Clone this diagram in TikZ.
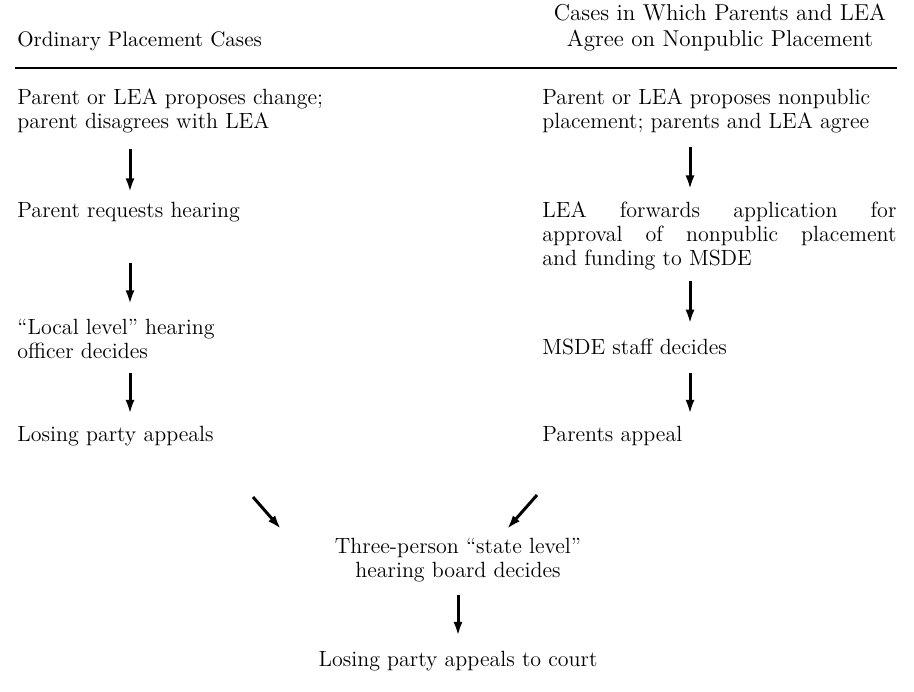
\documentclass[tikz,border=0pt]{standalone}
\usepackage{tikz}
\usetikzlibrary{arrows.meta, calc}

\begin{document}
\begin{tikzpicture}[x=0.5pt,y=-0.5pt,
  font=\fontsize{11pt}{12pt}\selectfont,
  stage/.style={anchor=base west, inner sep=0pt, align=left},
  midstage/.style={anchor=base, inner sep=0pt, align=center},
  flow/.style={line width=1.5pt, -{Latex[length=7pt,width=4.5pt]}}]

\useasboundingbox (0,0) rectangle (914,691);

% PARAMETERS
\coordinate (lx) at (130,0);   % x of the left arrows
\coordinate (rx) at (690,0);   % x of the right arrows

% ------------------------
% Headings and rule
% (a multi-line node sits on the baseline of its last line)
% ------------------------
\node[stage, font=\fontsize{10.5pt}{12pt}\selectfont] (hleft) at (17,46) {Ordinary Placement Cases};
\node[midstage, font=\fontsize{11.5pt}{13pt}\selectfont] (hright) at (720,46)
  {Cases in Which Parents and LEA\\Agree on Nonpublic Placement};
\coordinate (rulestart) at (15,68);
\coordinate (ruleend) at (897,68);
\draw[line width=0.7pt] (rulestart) -- (ruleend);

% ------------------------
% Left column: ordinary cases
% ------------------------
\node[stage] (l1) at (17,128) {Parent or LEA proposes change;\\parent disagrees with LEA};
\node[stage] (l2) at (17,217) {Parent requests hearing};
\node[stage] (l3) at (17,358) {``Local level'' hearing\\officer decides};
\node[stage] (l4) at (17,441) {Losing party appeals};

\draw[flow, shorten <=8pt, shorten >=4.5pt] (l1.south -| lx) -- (l2.north -| lx);
\draw[flow, shorten <=20.5pt, shorten >=7pt] (l2.south -| lx) -- (l3.north -| lx);
\draw[flow, shorten <=7pt, shorten >=5.7pt] (l3.south -| lx) -- (l4.north -| lx);

% ------------------------
% Right column: agreed nonpublic placement
% ------------------------
\node[stage] (r1) at (542,128) {Parent or LEA proposes nonpublic\\placement; parents and LEA agree};
\node[stage, text width=177pt, align=justify] (r2) at (542,217)
  {LEA forwards application for\linebreak approval of nonpublic placement\linebreak and funding to MSDE};
\node[stage] (r3) at (542,354) {MSDE staff decides};
\node[stage] (r4) at (542,441) {Parents appeal};

\draw[flow, shorten <=7pt, shorten >=5.7pt] (r1.south -| rx) -- (r2.north -| rx);
\draw[flow, shorten <=5.5pt, shorten >=7.2pt] (r2.south -| rx) -- (r3.north -| rx);
\draw[flow, shorten <=9pt, shorten >=5.7pt] (r3.south -| rx) -- (r4.north -| rx);

% ------------------------
% Joint state level and court
% ------------------------
\node[midstage] (c1) at (458,577) {Three-person ``state level''\\hearing board decides};
\node[midstage] (c2) at (458,666) {Losing party appeals to court};

\coordinate (lsplit) at (253,497);
\coordinate (ljoin) at (281,529);
\coordinate (rsplit) at (537,495);
\coordinate (rjoin) at (507,529);
\draw[flow] (lsplit) -- (ljoin);
\draw[flow] (rsplit) -- (rjoin);
\draw[flow, shorten <=6.5pt, shorten >=7.2pt] (c1.south) -- (c2.north);

\end{tikzpicture}
\end{document}
